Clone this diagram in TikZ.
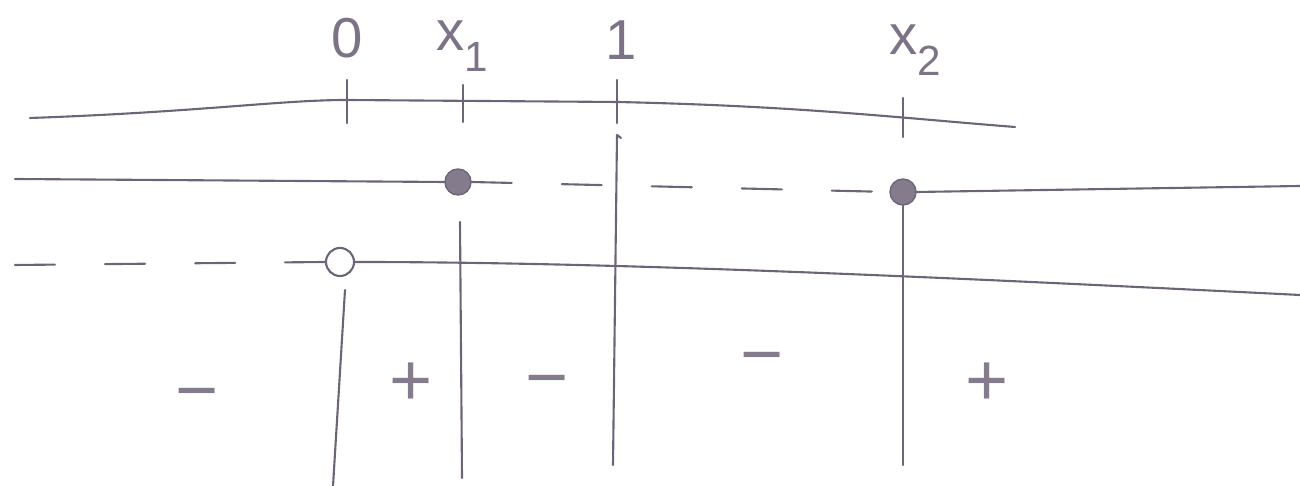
\documentclass[tikz,border=0pt]{standalone}
\usepackage{fontspec}
\setmainfont{Liberation Sans}
\definecolor{pencil}{HTML}{6E6478}
\newcommand{\subidx}[1]{\raisebox{-0.7ex}{\fontsize{12}{14}\selectfont #1}}
\begin{document}
\begin{tikzpicture}[x=0.01cm, y=-0.01cm, line cap=round, line join=round,
    pen/.style={draw=pencil, line width=0.6pt},
    dashline/.style={pen, dash pattern=on 0.4cm off 0.5cm},
    dot/.style={circle, fill=pencil!85, draw=pencil, minimum size=0.26cm, inner sep=0pt},
    hole/.style={circle, fill=white, draw=pencil, line width=0.6pt, minimum size=0.28cm, inner sep=0pt},
    lab/.style={text=pencil!90, inner sep=1pt, font=\fontsize{16}{20}\selectfont},
    sgn/.style={text=pencil!85, inner sep=1pt, font=\fontsize{21}{24}\selectfont}]
  \useasboundingbox (0,0) rectangle (1300,486);
  % labels
  \node[lab] (l0) at (347,38) {0};
  \node[lab] (lx1) at (462,46) {x\subidx{1}};
  \node[lab] (l1) at (621,40) {1};
  \node[lab] (lx2) at (915,50) {x\subidx{2}};
  % number line
  \coordinate (a0) at (30,118);
  \coordinate (a1) at (1015,127);
  \draw[pen] (a0) .. controls (200,112) and (280,100) .. (347,100)
    -- (617,102) .. controls (800,106) and (900,118) .. (a1);
  \draw[pen] (347,80) -- (347,123);
  \draw[pen] (463,85) -- (463,122);
  \draw[pen] (617,80) -- (617,123);
  \draw[pen] (903,98) -- (903,137);
  % second row
  \node[dot] (d1) at (458,182) {};
  \node[dot] (d2) at (903,192) {};
  \coordinate (b0) at (15,179);
  \coordinate (b1) at (1300,186);
  \draw[pen] (b0) -- (d1.west);
  \draw[dashline] (d1.east) -- (d2.west);
  \draw[pen] (d2.east) -- (b1);
  % third row
  \node[hole] (h0) at (340,262) {};
  \coordinate (c0) at (15,265);
  \coordinate (c1) at (1300,295);
  \draw[dashline] (c0) -- (h0.west);
  \draw[pen] (h0.east) .. controls (600,262) and (900,275) .. (c1);
  % vertical separators
  \coordinate (v0t) at (345,290);
  \coordinate (v0b) at (333,486);
  \coordinate (v1t) at (460,222);
  \coordinate (v1b) at (462,478);
  \coordinate (v2t) at (617,135);
  \coordinate (v2b) at (613,465);
  \coordinate (v3b) at (903,465);
  \draw[pen] (v0t) -- (v0b);
  \draw[pen] (v1t) -- (v1b);
  \draw[pen] (621,138) -- (v2t) -- (v2b);
  \draw[pen] (d2.south) -- (v3b);
  % signs
  \node[sgn] (s1) at (197,402) {−};
  \node[sgn] (s2) at (411,384) {+};
  \node[sgn] (s3) at (547,389) {−};
  \node[sgn] (s4) at (762,366) {−};
  \node[sgn] (s5) at (987,384) {+};
\end{tikzpicture}
\end{document}
